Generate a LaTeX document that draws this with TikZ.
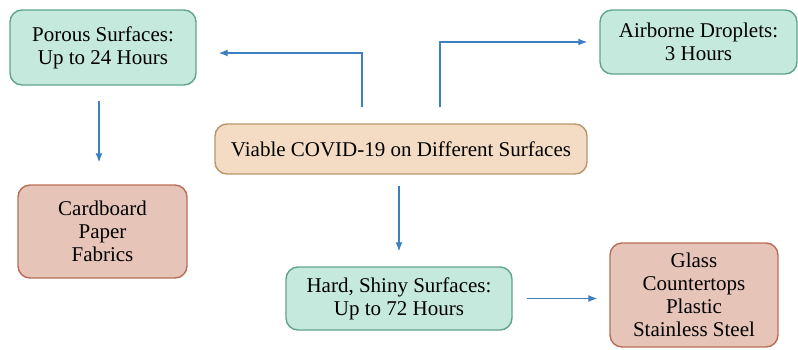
\documentclass[tikz,border=0pt]{standalone}
\usepackage{fontspec}
\setmainfont{Liberation Serif}
\usetikzlibrary{arrows.meta,positioning,calc}
\definecolor{greenfill}{RGB}{197,233,220}
\definecolor{greenline}{RGB}{96,165,139}
\definecolor{tanfill}{RGB}{244,220,196}
\definecolor{tanline}{RGB}{184,150,106}
\definecolor{pinkfill}{RGB}{230,196,184}
\definecolor{pinkline}{RGB}{184,110,86}
\definecolor{arrowblue}{RGB}{62,127,193}

\begin{document}
\begin{tikzpicture}[x=1pt,y=-1pt,>={Latex[length=9pt,width=7pt]},
        box/.style={rounded corners=12pt,line width=1.4pt,align=center,inner sep=0pt,
          font=\fontsize{21}{23}\selectfont},
        timebox/.style={box,draw=greenline,fill=greenfill},
        rootbox/.style={box,draw=tanline,fill=tanfill},
        listbox/.style={box,draw=pinkline,fill=pinkfill},
        arr/.style={->,draw=arrowblue,line width=1.3pt}]
        \useasboundingbox (0,0) rectangle (798,349);
        \node[rootbox,minimum width=372pt,minimum height=50pt]  (virus) at (401,149) {Viable COVID-19 on Different Surfaces};
        \node[timebox,minimum width=186pt,minimum height=75pt]  (porous) at (103,47.5) {Porous Surfaces:\\Up to 24 Hours};
        \node[timebox,minimum width=197pt,minimum height=64pt]  (air) at (698.5,42) {Airborne Droplets:\\3 Hours};
        \node[listbox,minimum width=169pt,minimum height=93pt]  (soft) at (102.5,231.5) {Cardboard\\Paper\\Fabrics};
        \node[timebox,minimum width=226pt,minimum height=63pt]  (hard) at (399,298.5) {Hard, Shiny Surfaces:\\Up to 72 Hours};
        \node[listbox,minimum width=168pt,minimum height=104pt] (smooth) at (694,295) {Glass\\Countertops\\Plastic\\Stainless Steel};
        \draw[arr,shorten <=16pt,shorten >=22pt] ([xshift=-39pt]virus.north) |- ([yshift=-5.5pt]porous.east);
        \draw[arr,shorten <=16pt,shorten >=12pt] ([xshift=39pt]virus.north) |- (air.west);
        \draw[arr,shorten <=15pt,shorten >=22pt] ([xshift=-4pt]porous.south) -- ([xshift=-3.5pt]soft.north);
        \draw[arr,shorten <=11pt,shorten >=15pt] ([xshift=-2pt]virus.south) -- (hard.north);
        \draw[arr,shorten <=14pt,shorten >=12pt] (hard.east) -- (smooth.west |- hard.east);
\end{tikzpicture}
\end{document}
